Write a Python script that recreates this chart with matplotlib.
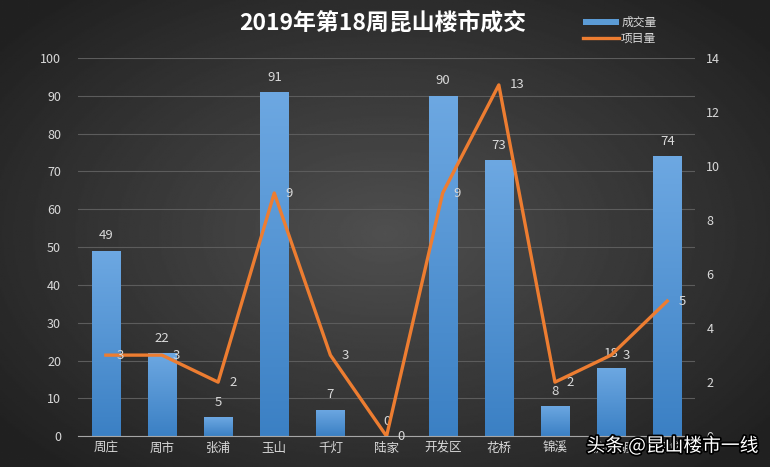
import matplotlib
matplotlib.use("Agg")
import matplotlib.pyplot as plt
import numpy as np
import matplotlib.patheffects as pe
from matplotlib.colors import LinearSegmentedColormap
from matplotlib.patches import Patch
from matplotlib.lines import Line2D

plt.rcParams['font.family'] = ['Noto Sans CJK SC', 'DejaVu Sans']

categories = ["周庄", "周市", "张浦", "玉山", "千灯", "陆家", "开发区", "花桥", "锦溪", "淀山湖", "巴城"]
deals = [49, 22, 5, 91, 7, 0, 90, 73, 8, 18, 74]
projects = [3, 3, 2, 9, 3, 0, 9, 13, 2, 3, 5]
title = "2019年第18周昆山楼市成交"
left_ticks = [0, 10, 20, 30, 40, 50, 60, 70, 80, 90, 100]
right_ticks = [0, 2, 4, 6, 8, 10, 12, 14]

fig = plt.figure(figsize=(7.7, 4.67), dpi=100)

# background radial gradient
bg = fig.add_axes([0, 0, 1, 1], zorder=0)
yy, xx = np.mgrid[-1:1:300j, -1:1:500j]
r = np.sqrt((xx * 0.95) ** 2 + (yy * 0.9) ** 2)
img = np.clip(0.31 - 0.15 * r, 0.13, 0.32)
bg.imshow(img, cmap='gray', vmin=0, vmax=1, extent=[0, 1, 0, 1], aspect='auto')
bg.axis('off')

ax = fig.add_axes([0.101, 0.066, 0.802, 0.81], zorder=1)
ax.patch.set_alpha(0)
x = np.arange(len(categories))
bars = ax.bar(x, deals, width=0.5, color='#5b9bd5', zorder=2)

# gradient fill on bars
grad = np.linspace(0, 1, 256).reshape(-1, 1)
cmap = LinearSegmentedColormap.from_list('b', ['#3b80c4', '#6da8e2'])
for b in bars:
    if b.get_height() <= 0:
        continue
    im = ax.imshow(grad, cmap=cmap, origin='lower', aspect='auto',
                   extent=[b.get_x(), b.get_x() + b.get_width(), 0, b.get_height()], zorder=2.1)
    im.set_clip_path(b)

ax.set_xlim(-0.5, len(categories) - 0.5)
ax.set_ylim(0, 100)
ax.set_yticks(left_ticks)
ax.set_xticks(x)
ax.set_xticklabels(categories)
ax.grid(axis='y', color='#5c5c5c', linewidth=0.8, zorder=0)
ax.set_axisbelow(True)
for s in ['top', 'right', 'left']:
    ax.spines[s].set_visible(False)
ax.spines['bottom'].set_color('#a6a6a6')
ax.tick_params(axis='both', length=0, colors='#d9d9d9', labelsize=9)
ax.tick_params(axis='x', pad=4)
ax.tick_params(axis='y', pad=12)

for xi, v in zip(x, deals):
    ax.annotate(str(v), (xi, v), xytext=(0, 6), textcoords='offset points',
                ha='center', va='bottom', color='#d9d9d9', fontsize=9.5, zorder=5)

ax2 = ax.twinx()
ax2.set_ylim(0, 14)
ax2.set_yticks(right_ticks)
for s in ['top', 'right', 'left', 'bottom']:
    ax2.spines[s].set_visible(False)
ax2.tick_params(axis='y', length=0, colors='#d9d9d9', labelsize=9, pad=8)
ax2.plot(x, projects, color='#ed7d31', linewidth=2.4, zorder=4)
for xi, v in zip(x, projects):
    ax2.annotate(str(v), (xi, v), xytext=(8, 0), textcoords='offset points',
                 ha='left', va='center', color='#d9d9d9', fontsize=9.5, zorder=5)

fig.text(0.497, 0.951, title, ha='center', va='center', color='white',
         fontsize=16.5, fontweight='bold')

handles = [Patch(facecolor='#5b9bd5', edgecolor='none'),
           Line2D([0], [0], color='#ed7d31', linewidth=2.4)]
fig.legend(handles, ["成交量", "项目量"], loc='center', bbox_to_anchor=(0.805, 0.935),
           frameon=False, fontsize=8.5, labelcolor='#d9d9d9', handlelength=3.0,
           handleheight=0.5, handletextpad=0.2, labelspacing=0.2)

fig.text(0.985, 0.045, "头条 @昆山楼市一线", ha='right', va='center', color='white',
         fontsize=13.5, path_effects=[pe.withStroke(linewidth=2.5, foreground='black')], zorder=10)

fig.savefig("out.png", dpi=100)
